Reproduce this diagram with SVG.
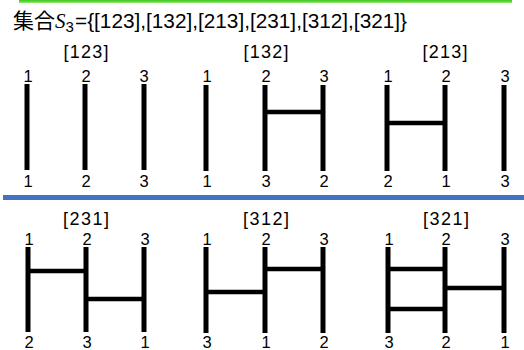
<svg xmlns="http://www.w3.org/2000/svg" width="524" height="350" viewBox="0 0 524 350">
  <style>
    .bar { stroke: #000; stroke-width: 5; stroke-linecap: butt; fill: none; }
    .rung { stroke: #000; stroke-width: 4.5; fill: none; }
    .num { font-family: "Liberation Sans", "Noto Sans CJK JP", sans-serif; font-size: 16.5px; fill: #000; text-anchor: middle; }
    .head { font-family: "Liberation Sans", "Noto Sans CJK JP", sans-serif; font-size: 18px; fill: #000; text-anchor: middle; }
    .title { font-family: "Liberation Sans", "Noto Sans CJK JP", sans-serif; font-size: 21px; fill: #000; }
  </style>
  <defs>
    <linearGradient id="greenBar" x1="0" y1="0" x2="0" y2="1">
      <stop offset="0" stop-color="#3fc41f"/>
      <stop offset="1" stop-color="#8fe66a"/>
    </linearGradient>
  </defs>

  <rect width="524" height="350" fill="#fff"/>

  <!-- top accent line and row divider -->
  <rect x="19" y="0" width="493" height="3" fill="url(#greenBar)"/>
  <rect x="3" y="195" width="521" height="5" fill="#4472c4"/>

  <!-- heading: set name with italic S and subscript 3, then the set members -->
  <text class="title" x="13" y="28"><tspan font-family="'Noto Sans CJK JP', sans-serif">集合</tspan><tspan font-style="italic" font-family="'Liberation Serif', serif">S</tspan><tspan font-size="15" dy="4">3</tspan></text>
  <text class="title" x="75" y="28" textLength="332" lengthAdjust="spacingAndGlyphs">={[123],[132],[213],[231],[312],[321]}</text>

  <!-- [123] -->
  <g id="perm-123">
    <text class="head" x="86" y="58" textLength="45">[123]</text>
    <text class="num" x="28" y="82">1</text>
    <text class="num" x="86" y="82">2</text>
    <text class="num" x="144" y="82">3</text>
    <line class="bar" x1="27" y1="84" x2="27" y2="170"/>
    <line class="bar" x1="85" y1="84" x2="85" y2="170"/>
    <line class="bar" x1="144" y1="84" x2="144" y2="170"/>
    <text class="num" x="28" y="187">1</text>
    <text class="num" x="86" y="187">2</text>
    <text class="num" x="144" y="187">3</text>
  </g>

  <!-- [132] -->
  <g id="perm-132">
    <text class="head" x="266" y="58" textLength="45">[132]</text>
    <text class="num" x="207" y="82">1</text>
    <text class="num" x="266" y="82">2</text>
    <text class="num" x="324" y="82">3</text>
    <line class="bar" x1="206" y1="85" x2="206" y2="171"/>
    <line class="bar" x1="265" y1="85" x2="265" y2="171"/>
    <line class="bar" x1="323" y1="85" x2="323" y2="171"/>
    <line class="rung" x1="265" y1="112" x2="323" y2="112"/>
    <text class="num" x="207" y="187">1</text>
    <text class="num" x="266" y="187">3</text>
    <text class="num" x="324" y="187">2</text>
  </g>

  <!-- [213] -->
  <g id="perm-213">
    <text class="head" x="445" y="58" textLength="45">[213]</text>
    <text class="num" x="388" y="82">1</text>
    <text class="num" x="446" y="82">2</text>
    <text class="num" x="505" y="82">3</text>
    <line class="bar" x1="387" y1="85" x2="387" y2="171"/>
    <line class="bar" x1="445" y1="85" x2="445" y2="171"/>
    <line class="bar" x1="504" y1="85" x2="504" y2="171"/>
    <line class="rung" x1="387" y1="123" x2="445" y2="123"/>
    <text class="num" x="388" y="187">2</text>
    <text class="num" x="446" y="187">1</text>
    <text class="num" x="505" y="187">3</text>
  </g>

  <!-- [231] -->
  <g id="perm-231">
    <text class="head" x="86" y="225" textLength="46">[231]</text>
    <text class="num" x="29" y="245">1</text>
    <text class="num" x="87" y="245">2</text>
    <text class="num" x="145" y="245">3</text>
    <line class="bar" x1="28" y1="247" x2="28" y2="332"/>
    <line class="bar" x1="86" y1="247" x2="86" y2="332"/>
    <line class="bar" x1="144" y1="247" x2="144" y2="332"/>
    <line class="rung" x1="28" y1="271" x2="86" y2="271"/>
    <line class="rung" x1="86" y1="299" x2="144" y2="299"/>
    <text class="num" x="29" y="348">2</text>
    <text class="num" x="87" y="348">3</text>
    <text class="num" x="145" y="348">1</text>
  </g>

  <!-- [312] -->
  <g id="perm-312">
    <text class="head" x="266" y="225" textLength="46">[312]</text>
    <text class="num" x="207" y="245">1</text>
    <text class="num" x="266" y="245">2</text>
    <text class="num" x="324" y="245">3</text>
    <line class="bar" x1="206" y1="247" x2="206" y2="333"/>
    <line class="bar" x1="265" y1="247" x2="265" y2="333"/>
    <line class="bar" x1="323" y1="247" x2="323" y2="333"/>
    <line class="rung" x1="206" y1="292" x2="265" y2="292"/>
    <line class="rung" x1="265" y1="269" x2="323" y2="269"/>
    <text class="num" x="207" y="348">3</text>
    <text class="num" x="266" y="348">1</text>
    <text class="num" x="324" y="348">2</text>
  </g>

  <!-- [321] -->
  <g id="perm-321">
    <text class="head" x="446" y="225" textLength="46">[321]</text>
    <text class="num" x="389" y="245">1</text>
    <text class="num" x="446" y="245">2</text>
    <text class="num" x="505" y="245">3</text>
    <line class="bar" x1="388" y1="247" x2="388" y2="333"/>
    <line class="bar" x1="445" y1="247" x2="445" y2="333"/>
    <line class="bar" x1="504" y1="247" x2="504" y2="333"/>
    <line class="rung" x1="388" y1="269" x2="445" y2="269"/>
    <line class="rung" x1="388" y1="309" x2="445" y2="309"/>
    <line class="rung" x1="445" y1="288" x2="504" y2="288"/>
    <text class="num" x="389" y="348">3</text>
    <text class="num" x="446" y="348">2</text>
    <text class="num" x="505" y="348">1</text>
  </g>
</svg>
